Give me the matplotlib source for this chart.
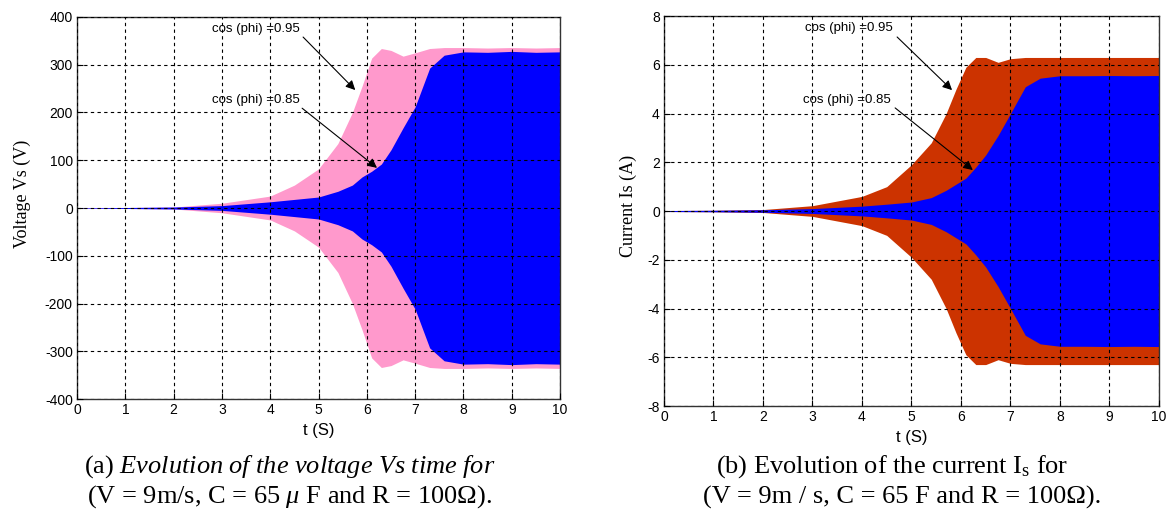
import matplotlib
matplotlib.use("Agg")
import matplotlib.pyplot as plt
import numpy as np

plt.rcParams["font.family"] = ["Liberation Sans", "DejaVu Sans"]
plt.rcParams["axes.unicode_minus"] = False
plt.rcParams["mathtext.fontset"] = "custom"
plt.rcParams["mathtext.rm"] = "Liberation Serif"
plt.rcParams["mathtext.it"] = "Liberation Serif:italic"

# Envelope (peak amplitude) of the stator voltage / current vs time
t = [0, 1, 2, 3, 4, 4.5, 5, 5.4, 5.7, 5.9, 6.1, 6.3, 6.5, 6.75, 7.0, 7.3, 7.6, 8, 8.5, 9, 9.5, 10]
vs_095 = [0.5, 1, 2, 10, 25, 48, 82, 135, 200, 255, 314, 334, 330, 318, 325, 334, 336, 336, 335, 336, 335, 336]
vs_085 = [0.5, 1, 2, 5, 13, 18, 23, 35, 48, 65, 77, 92, 122, 168, 212, 293, 320, 327, 326, 328, 326, 327]
is_095 = [0.02, 0.03, 0.06, 0.22, 0.6, 1.0, 1.9, 2.8, 4.0, 5.0, 5.9, 6.3, 6.3, 6.1, 6.25, 6.3, 6.3, 6.3, 6.3, 6.3, 6.3, 6.3]
is_085 = [0.02, 0.03, 0.05, 0.1, 0.2, 0.28, 0.37, 0.55, 0.85, 1.1, 1.35, 1.8, 2.3, 3.1, 4.0, 5.1, 5.45, 5.55, 5.55, 5.56, 5.55, 5.56]

x_ticks = list(range(0, 11))
v_ticks = [-400, -300, -200, -100, 0, 100, 200, 300, 400]
i_ticks = [-8, -6, -4, -2, 0, 2, 4, 6, 8]

PINK = "#ff99cc"
BLUE = "#0000ff"
RED = "#cc3300"

fig = plt.figure(figsize=(11.69, 5.12), dpi=100)
ax1 = fig.add_axes([0.0659, 0.2207, 0.4132, 0.7461])
ax2 = fig.add_axes([0.568, 0.207, 0.4234, 0.7617])


def style(ax, yticks, ylabel, label_xy):
    ax.set_xlim(0, 10)
    ax.set_ylim(yticks[0], yticks[-1])
    ax.set_xticks(x_ticks)
    ax.set_yticks(yticks)
    ax.tick_params(direction="in", length=4, labelsize=10, pad=3)
    ax.grid(True, color="black", linestyle=(0, (3, 3)), linewidth=0.8)
    ax.set_axisbelow(False)
    for s in ax.spines.values():
        s.set_linewidth(1.0)
        s.set_color("#333333")
    ax.set_xlabel("t (S)", fontsize=12, labelpad=4)
    ax.set_ylabel(ylabel, fontsize=13, family="Liberation Serif")
    ax.yaxis.set_label_coords(*label_xy)


def arrow(ax, text, text_xy, start, head):
    ax.text(text_xy[0], text_xy[1], text, ha="right", va="center", fontsize=9.5)
    ax.annotate("", xy=head, xytext=start,
                arrowprops=dict(arrowstyle="-|>", color="black", lw=0.8,
                                mutation_scale=14, shrinkA=0, shrinkB=0))


# (a) stator voltage
tv = np.array(t)
ax1.fill_between(tv, -np.array(vs_095), vs_095, color=PINK, linewidth=0, zorder=1)
ax1.fill_between(tv, -np.array(vs_085), vs_085, color=BLUE, linewidth=0, zorder=2)
style(ax1, v_ticks, "Voltage Vs (V)", (-0.095, 0.537))
arrow(ax1, "cos (phi) =0.95", (4.62, 375), (4.68, 358), (5.76, 247))
arrow(ax1, "cos (phi) =0.85", (4.62, 226), (4.66, 209), (6.21, 84))

# (b) stator current
ax2.fill_between(tv, -np.array(is_095), is_095, color=RED, linewidth=0, zorder=1)
ax2.fill_between(tv, -np.array(is_085), is_085, color=BLUE, linewidth=0, zorder=2)
style(ax2, i_ticks, "Current Is (A)", (-0.055, 0.513))
arrow(ax2, "cos (phi) =0.95", (4.63, 7.5), (4.71, 7.14), (5.82, 4.96))
arrow(ax2, "cos (phi) =0.85", (4.59, 4.55), (4.67, 4.23), (6.24, 1.68))

# captions
cap = dict(ha="center", va="center", fontsize=19, family="Liberation Serif")
fig.text(0.248, 1 - 467 / 512,
         r"(a) $\mathit{Evolution\ of\ the\ voltage\ Vs\ time\ for}$", **cap)
fig.text(0.248, 1 - 497 / 512,
         "$\\mathit{(}$V = 9m/s, C = 65 $\\mathit{\\mu}$ F and R = 100\u03a9$\\mathit{)}$.", **cap)
fig.text(0.763, 1 - 467 / 512,
         r"(b) Evolution of the current I$_\mathrm{s}$ for", **cap)
fig.text(0.772, 1 - 497 / 512,
         "(V = 9m / s, C = 65 F and R = 100\u03a9).", **cap)

fig.savefig("out.png", dpi=100)
